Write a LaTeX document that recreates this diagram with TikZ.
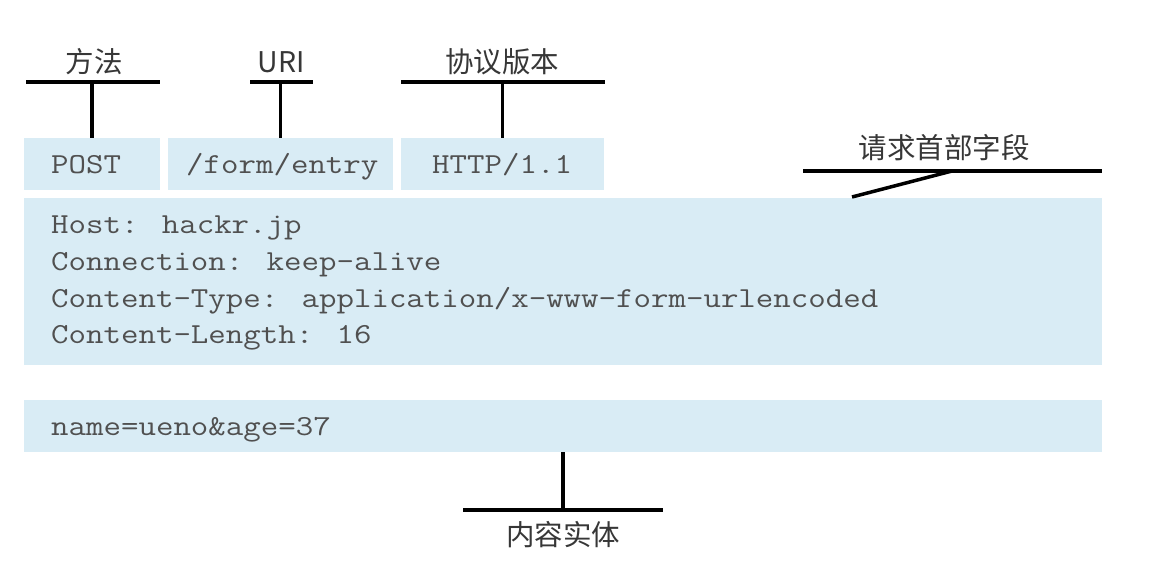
\documentclass[tikz,border=0pt]{standalone}
\usepackage{fontspec}
\newfontfamily\cjk{Noto Sans CJK SC}
\definecolor{boxblue}{RGB}{217,236,245}
\definecolor{codegray}{RGB}{80,80,80}
\definecolor{lblgray}{RGB}{55,55,55}
\newcommand\widetxt[1]{\scalebox{1.17}[1]{#1}}
\tikzset{
  fieldbox/.style={fill=boxblue, draw=none, inner sep=0pt},
  code/.style={font=\ttfamily\fontsize{29}{29}\selectfont, text=codegray, inner sep=0pt, anchor=base west},
  lbl/.style={font=\cjk\fontsize{28.5}{28.5}\selectfont, text=lblgray, inner sep=0pt},
  bar/.style={line width=3.5pt, black},
}
\begin{document}
\begin{tikzpicture}[x=1pt,y=-1pt]
\useasboundingbox[fill=white] (0,0) rectangle (1172,577);
% boxes
\node[fieldbox, minimum width=136pt, minimum height=52pt] (post) at (92,164) {};
\node[fieldbox, minimum width=225pt, minimum height=52pt] (uri) at (280.5,164) {};
\node[fieldbox, minimum width=203pt, minimum height=52pt] (ver) at (502.5,164) {};
\node[fieldbox, minimum width=1078pt, minimum height=167pt] (head) at (563,281.5) {};
\node[fieldbox, minimum width=1078pt, minimum height=52pt] (body) at (563,426) {};
% texts
\node[code] (tpost) at (51,174) {\widetxt{POST}};
\node[code] (turi) at (186,174) {\widetxt{/form/entry}};
\node[code] (tver) at (432,174) {\widetxt{HTTP/1.1}};
\node[code] (h1) at (51,234) {\widetxt{Host: hackr.jp}};
\node[code] (h2) at (51,271) {\widetxt{Connection: keep-alive}};
\node[code] (h3) at (51,307) {\widetxt{Content-Type: application/x-www-form-urlencoded}};
\node[code] (h4) at (51,343) {\widetxt{Content-Length: 16}};
\node[code] (b1) at (51,435) {\widetxt{name=ueno\&age=37}};
% labels
\node[lbl] (lm) at (94,62) {方法};
\node[lbl] (lu) at (281,62) {URI};
\node[lbl] (lv) at (502,62) {协议版本};
\node[lbl] (lh) at (944,148) {请求首部字段};
\node[lbl] (lb) at (563,535) {内容实体};
% bars
\coordinate (mL) at (26,82); \coordinate (mR) at (160,82); \coordinate (mC) at (92,82);
\coordinate (uL) at (250,82); \coordinate (uR) at (313,82); \coordinate (uC) at (280.5,82);
\coordinate (vL) at (401,82); \coordinate (vR) at (605,82); \coordinate (vC) at (502.5,82);
\coordinate (hL) at (803,171); \coordinate (hR) at (1102,171); \coordinate (hC) at (952,171);
\coordinate (hE) at (852,197);
\coordinate (bL) at (463,510); \coordinate (bR) at (663,510); \coordinate (bC) at (563,510);
\draw[bar] (mL) -- (mR); \draw[bar] (mC) -- (post.north);
\draw[bar] (uL) -- (uR); \draw[bar] (uC) -- (uri.north);
\draw[bar] (vL) -- (vR); \draw[bar] (vC) -- (ver.north);
\draw[bar] (hL) -- (hR); \draw[bar] (hC) -- (hE);
\draw[bar] (bL) -- (bR); \draw[bar] (bC) -- (body.south);
\end{tikzpicture}
\end{document}
